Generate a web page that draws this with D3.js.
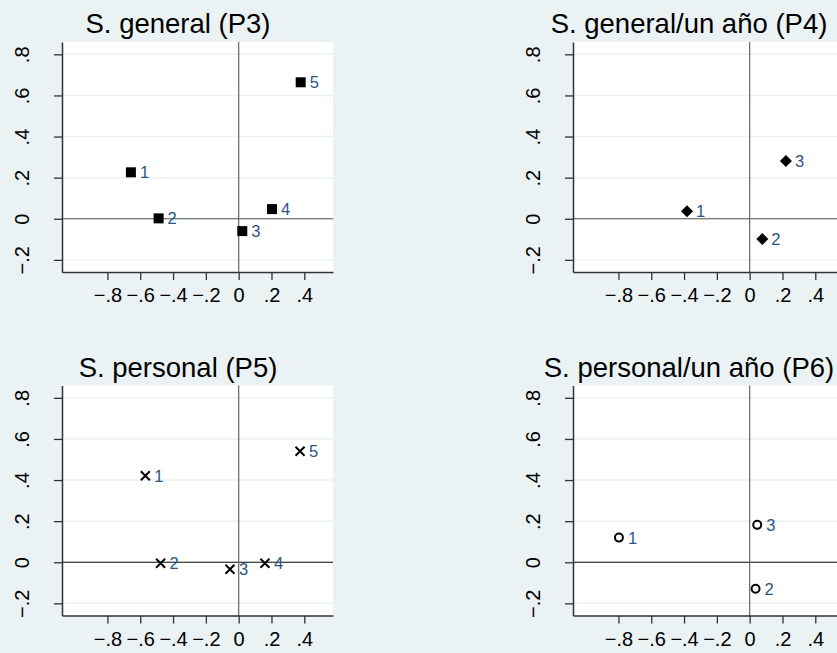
<!DOCTYPE html>
<html>
<head>
<meta charset="utf-8">
<script src="https://cdn.jsdelivr.net/npm/d3@7"></script>
<style>
  body { margin: 0; background: #eaf2f3; }
  svg { display: block; font-family: "Liberation Sans", Arial, sans-serif; }
</style>
</head>
<body>
<div id="chart"></div>
<script>
// Titles and marker symbols of the four panels
var titles = ["S. general (P3)", "S. general/un año (P4)", "S. personal (P5)", "S. personal/un año (P6)"];
var symbols = ["square", "diamond", "cross", "circle"];

// Values (x, y, label)
var p3X = [-0.657, -0.488, 0.022, 0.203, 0.378];
var p3Y = [0.226, 0.002, -0.060, 0.047, 0.664];
var p3L = ["1", "2", "3", "4", "5"];

var p4X = [-0.382, 0.077, 0.221];
var p4Y = [0.037, -0.099, 0.281];
var p4L = ["1", "2", "3"];

var p5X = [-0.569, -0.476, -0.053, 0.160, 0.374];
var p5Y = [0.421, -0.005, -0.034, -0.005, 0.540];
var p5L = ["1", "2", "3", "4", "5"];

var p6X = [-0.797, 0.036, 0.046];
var p6Y = [0.120, -0.129, 0.182];
var p6L = ["1", "2", "3"];

var xTicks = [-0.8, -0.6, -0.4, -0.2, 0, 0.2, 0.4];
var yTicks = [-0.2, 0, 0.2, 0.4, 0.6, 0.8];

var svgWidth = 837;
var svgHeight = 653;

var svg = d3.select("#chart")
  .append("svg")
  .attr("width", svgWidth)
  .attr("height", svgHeight);

svg.append("rect")
  .attr("width", svgWidth)
  .attr("height", svgHeight)
  .attr("fill", "#eaf2f3");

// plot region inside one panel
var plot = { left: 62, right: 333, top: 42, bottom: 272 };

var x = d3.scaleLinear().domain([-1.077, 0.575]).range([plot.left, plot.right]);
var y = d3.scaleLinear().domain([-0.259, 0.86]).range([plot.bottom, plot.top]);

var fmt = function (d) {
  if (d === 0) return "0";
  return d3.format(".1f")(d).replace("0.", ".");
};

var panels = [
  { xs: p3X, ys: p3Y, ls: p3L },
  { xs: p4X, ys: p4Y, ls: p4L },
  { xs: p5X, ys: p5Y, ls: p5L },
  { xs: p6X, ys: p6Y, ls: p6L }
];

panels.forEach(function (p, i) {
  var col = i % 2, row = Math.floor(i / 2);
  var g = svg.append("g")
    .attr("transform", `translate(${col * 511}, ${row * 343.5})`);

  // title
  g.append("text")
    .attr("x", 178)
    .attr("y", 33)
    .attr("text-anchor", "middle")
    .attr("font-size", "27.5px")
    .attr("fill", "#000")
    .text(titles[i]);

  // white plot area
  g.append("rect")
    .attr("x", plot.left)
    .attr("y", plot.top)
    .attr("width", plot.right - plot.left)
    .attr("height", plot.bottom - plot.top)
    .attr("fill", "#fff");

  // grid lines
  g.append("g").selectAll("line")
    .data(yTicks)
    .enter()
    .append("line")
    .attr("x1", plot.left)
    .attr("x2", plot.right)
    .attr("y1", d => y(d))
    .attr("y2", d => y(d))
    .attr("stroke", "#eaf2f3")
    .attr("stroke-width", 1.5);

  // reference lines at zero
  g.append("line")
    .attr("x1", plot.left).attr("x2", plot.right)
    .attr("y1", y(0)).attr("y2", y(0))
    .attr("stroke", row === 0 ? "#555" : "#111")
    .attr("stroke-width", 1.2);
  g.append("line")
    .attr("x1", x(0)).attr("x2", x(0))
    .attr("y1", plot.top).attr("y2", plot.bottom)
    .attr("stroke", "#666")
    .attr("stroke-width", 1.2);

  // axes
  var bottomAxis = d3.axisBottom(x).tickValues(xTicks).tickFormat(fmt).tickSize(8).tickSizeOuter(0);
  var leftAxis = d3.axisLeft(y).tickValues(yTicks).tickFormat(fmt).tickSize(8).tickSizeOuter(0);

  var gx = g.append("g")
    .attr("transform", `translate(0, ${plot.bottom})`)
    .call(bottomAxis);
  gx.select(".domain").attr("stroke", "#333").attr("stroke-width", 1.5);
  gx.selectAll(".tick line").attr("stroke", "#333").attr("stroke-width", 1.3);
  gx.selectAll(".tick text")
    .attr("font-size", "20px")
    .attr("font-family", "Liberation Sans, Arial, sans-serif")
    .attr("fill", "#000")
    .attr("y", 30)
    .attr("dy", 0);

  var gy = g.append("g")
    .attr("transform", `translate(${plot.left}, 0)`)
    .call(leftAxis);
  gy.select(".domain").attr("stroke", "#333").attr("stroke-width", 1.5);
  gy.selectAll(".tick line").attr("stroke", "#333").attr("stroke-width", 1.3);
  gy.selectAll(".tick text")
    .attr("font-size", "20px")
    .attr("font-family", "Liberation Sans, Arial, sans-serif")
    .attr("fill", "#000")
    .attr("text-anchor", "middle")
    .attr("transform", "rotate(-90)")
    .attr("x", 0)
    .attr("y", -33)
    .attr("dy", 0);

  // markers
  var pts = p.xs.map((v, k) => ({ x: v, y: p.ys[k], l: p.ls[k] }));
  var sym = symbols[i];
  var mk = g.append("g").selectAll("path")
    .data(pts)
    .enter()
    .append("path")
    .attr("transform", d => `translate(${x(d.x)}, ${y(d.y)})`);

  if (sym === "square") {
    mk.attr("d", d3.symbol().type(d3.symbolSquare).size(100)).attr("fill", "#000");
  } else if (sym === "diamond") {
    mk.attr("d", d3.symbol().type(d3.symbolSquare).size(72)).attr("fill", "#000")
      .attr("transform", d => `translate(${x(d.x)}, ${y(d.y)}) rotate(45)`);
  } else if (sym === "cross") {
    mk.attr("d", "M-4.5,-4.5L4.5,4.5M-4.5,4.5L4.5,-4.5")
      .attr("fill", "none").attr("stroke", "#000").attr("stroke-width", 2);
  } else {
    mk.attr("d", d3.symbol().type(d3.symbolCircle).size(50))
      .attr("fill", "#fff").attr("stroke", "#000").attr("stroke-width", 2);
  }

  // marker labels
  g.append("g").selectAll("text")
    .data(pts)
    .enter()
    .append("text")
    .attr("x", d => x(d.x) + 9)
    .attr("y", d => y(d.y) + 6)
    .attr("font-size", "16.5px")
    .attr("fill", "#2a5687")
    .text(d => d.l);
});
</script>
</body>
</html>
